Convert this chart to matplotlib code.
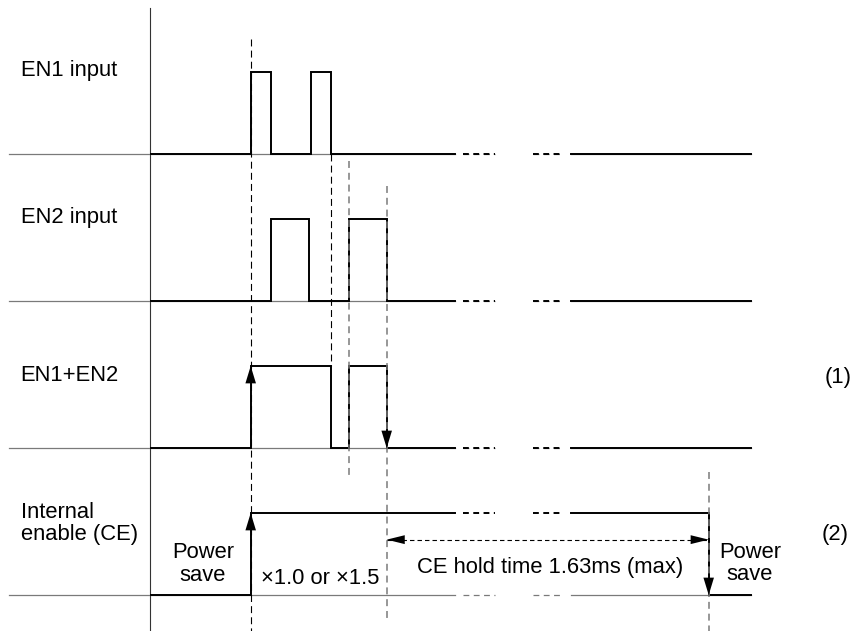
import matplotlib.pyplot as plt

plt.rcParams['font.family'] = ['Liberation Sans', 'DejaVu Sans']
plt.rcParams['lines.scale_dashes'] = False

# signal data (time units, high intervals)
row_labels = ['EN1 input', 'EN2 input', 'EN1+EN2', 'Internal\nenable (CE)']
en1_high = [(5.0, 6.0), (8.0, 9.0)]
en2_high = [(6.0, 7.9), (9.9, 11.8)]
en_or_high = [(5.0, 9.0), (9.9, 11.8)]
ce_high = [(5.0, 27.9)]
signals = [en1_high, en2_high, en_or_high, ce_high]
t_end = 30.0
t_label_left = -7.1
# time axis break
break_gap = (15.2, 21.0)
break_dashes = [(15.6, 17.2), (19.1, 20.6)]
# timing marks
rise_t = 5.0
or_fall_t = 11.8
ce_fall_t = 27.9
hold_text = 'CE hold time 1.63ms (max)'
mult_text = '\u00d71.0 or \u00d71.5'

ROW_GAP = 147 / 82
FS = 15.8
GREY = '#7a7a7a'


def level(highs, t):
    return 1 if any(a <= t < b for a, b in highs) else 0


def step_trace(highs, t0, t1):
    xs, ys = [t0], [level(highs, t0)]
    for a, b in highs:
        for e in (a, b):
            if t0 < e < t1:
                xs += [e, e]
                ys += [ys[-1], 1 - ys[-1]]
    xs.append(t1)
    ys.append(ys[-1])
    return xs, ys


fig = plt.figure(figsize=(8.54, 6.31), dpi=100)
ax = fig.add_axes([0, 0, 1, 1])
ax.set_xlim(-150.7 / 20, (854 - 150.7) / 20)
ax.set_ylim((154 - 631) / 82, 154 / 82)
ax.axis('off')

# vertical axis line
ax.plot([-0.035, -0.035], [1.78, -5.82], color='#333333', lw=0.8)

for k, highs in enumerate(signals):
    base = -k * ROW_GAP
    # grey reference baseline
    ax.plot([t_label_left, break_gap[0]], [base, base], color=GREY, lw=0.9)
    ax.plot([break_gap[1], t_end], [base, base], color=GREY, lw=0.9)
    for a, b in break_dashes:
        ax.plot([a, b], [base, base], color=GREY, lw=0.9, ls=(0, (4.2, 3.2)))
    # signal trace
    for t0, t1 in [(0.0, break_gap[0]), (break_gap[1], t_end)]:
        xs, ys = step_trace(highs, t0, t1)
        ax.plot(xs, [base + y for y in ys], color='black', lw=1.4,
                solid_joinstyle='miter')
    lv = level(highs, break_gap[0])
    for a, b in break_dashes:
        ax.plot([a, b], [base + lv, base + lv], color='black', lw=1.4,
                ls=(0, (4.2, 3.2)))

# dashed guides
b2 = -2 * ROW_GAP
b3 = -3 * ROW_GAP
ax.plot([rise_t, rise_t], [1.40, -5.82], color='black', lw=0.8, ls=(0, (5, 3)))
ax.plot([en1_high[-1][1]] * 2, [0, b2 + 1], color='black', lw=0.8, ls=(0, (5, 3)))
ax.plot([en2_high[-1][0]] * 2, [-0.09, -3.96], color=GREY, lw=1.1, ls=(0, (5, 3.5)))
ax.plot([or_fall_t] * 2, [-0.39, b3 - 0.28], color=GREY, lw=1.1, ls=(0, (5, 3.5)))
ax.plot([ce_fall_t] * 2, [b3 + 1.5, -5.82], color=GREY, lw=1.1, ls=(0, (5, 3.5)))

# edge arrow heads
head = dict(arrowstyle='-|>,head_length=1.25,head_width=0.38', mutation_scale=10,
            color='black', lw=0, shrinkA=0, shrinkB=0)
ax.annotate('', xy=(rise_t, b2 + 1), xytext=(rise_t, b2 + 0.5), arrowprops=head)
ax.annotate('', xy=(or_fall_t, b2), xytext=(or_fall_t, b2 + 0.5), arrowprops=head)
ax.annotate('', xy=(rise_t, b3 + 1), xytext=(rise_t, b3 + 0.5), arrowprops=head)
ax.annotate('', xy=(ce_fall_t, b3), xytext=(ce_fall_t, b3 + 0.5), arrowprops=head)

# CE hold time span
y_hold = b3 + 0.675
ax.plot([or_fall_t, ce_fall_t], [y_hold, y_hold], color='black', lw=0.8,
        ls=(0, (3.2, 2.2)))
hhead = dict(arrowstyle='-|>,head_length=1.3,head_width=0.32', mutation_scale=10,
             color='black', lw=0, shrinkA=0, shrinkB=0)
ax.annotate('', xy=(or_fall_t, y_hold), xytext=(or_fall_t + 1.5, y_hold), arrowprops=hhead)
ax.annotate('', xy=(ce_fall_t, y_hold), xytext=(ce_fall_t - 1.5, y_hold), arrowprops=hhead)

# row labels
label_offsets = [0.951, 0.951, 0.817, 0.945]
for k, (name, off) in enumerate(zip(row_labels, label_offsets)):
    base = -k * ROW_GAP
    for i, line in enumerate(name.split('\n')):
        ax.text(-6.5, base + off - i * 0.274, line, fontsize=FS,
                ha='left', va='baseline')

# annotations
ax.text(2.615, b3 + 0.455, 'Power', fontsize=FS, ha='center', va='baseline')
ax.text(2.615, b3 + 0.174, 'save', fontsize=FS, ha='center', va='baseline')
ax.text(29.965, b3 + 0.451, 'Power', fontsize=FS, ha='center', va='baseline')
ax.text(29.965, b3 + 0.183, 'save', fontsize=FS, ha='center', va='baseline')
ax.text(5.5, b3 + 0.134, mult_text, fontsize=FS, ha='left', va='baseline')
ax.text(13.3, b3 + 0.272, hold_text, fontsize=FS, ha='left', va='baseline')
ax.text(34.35, b2 + 0.792, '(1)', fontsize=FS, ha='center', va='baseline')
ax.text(34.2, b3 + 0.671, '(2)', fontsize=FS, ha='center', va='baseline')

fig.savefig('out.png', dpi=100)
